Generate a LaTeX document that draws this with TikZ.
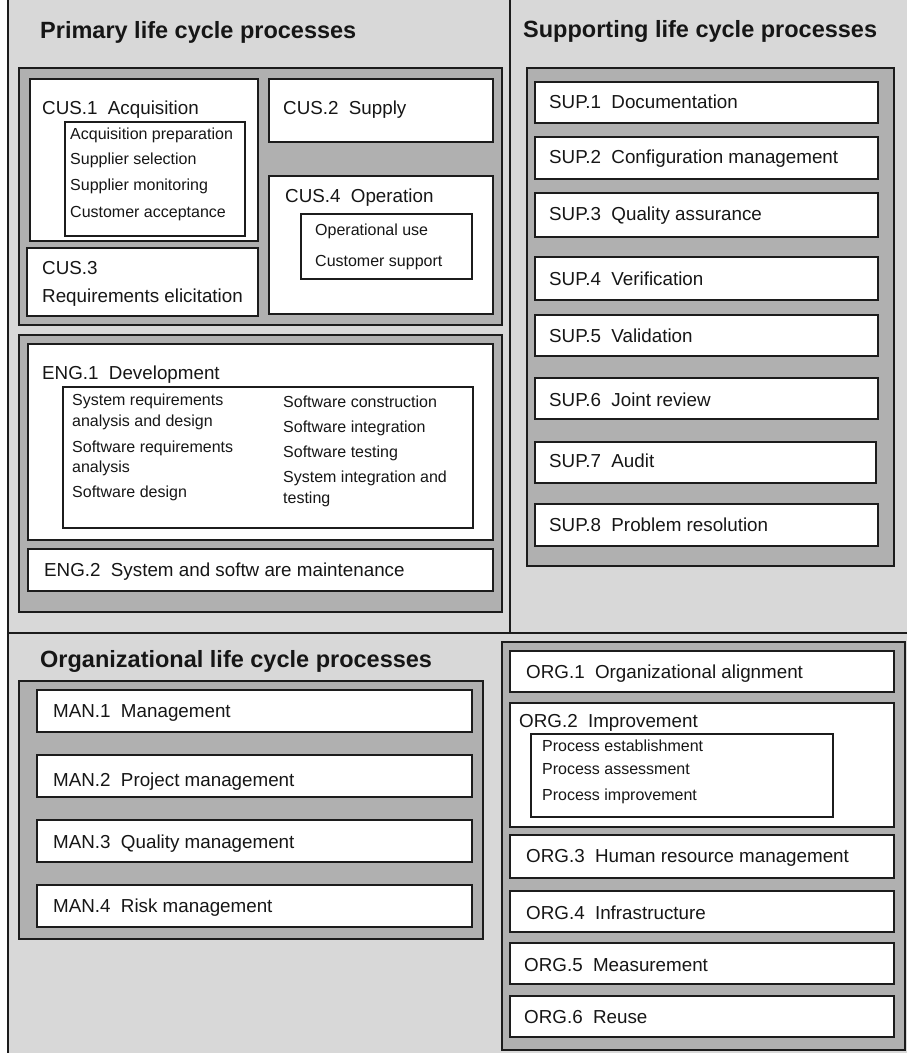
\documentclass[tikz,border=0pt]{standalone}
\usepackage{fontspec}
\setmainfont{Liberation Sans}
\definecolor{lightbg}{RGB}{216,216,216}
\definecolor{groupbg}{RGB}{176,176,176}
\definecolor{edge}{RGB}{28,28,28}
\definecolor{ink}{RGB}{22,22,22}
\tikzset{
 grp/.style={draw=edge, line width=2pt, fill=groupbg},
 pbox/.style={draw=edge, line width=2pt, fill=white},
 sbox/.style={draw=edge, line width=1.5pt, fill=white},
 head/.style={anchor=base west, inner sep=0pt, text=ink, font=\fontsize{23.5}{27}\selectfont\bfseries},
 lab/.style={anchor=base west, inner sep=0pt, text=ink, font=\fontsize{18.8}{22}\selectfont},
 sub/.style={anchor=base west, inner sep=0pt, text=ink, font=\fontsize{16}{19}\selectfont},
 divider/.style={draw=edge, line width=2.5pt},
}
\newcommand\gap{\hspace{0.55em}}
\newcommand\rbox[6]{\node[#2, anchor=north west, inner sep=0pt, outer sep=0pt, minimum width={(#5-#3)*1pt}, minimum height={(#6-#4)*1pt}] (#1) at (#3,#4) {};}
\begin{document}
\begin{tikzpicture}[x=1pt,y=-1pt]
\useasboundingbox (0,0) rectangle (907,1053);
\fill[lightbg] (8,0) rectangle (907,1053);
\coordinate (lt) at (8,0);
\coordinate (lb) at (8,1053);
\coordinate (hl) at (8,633);
\coordinate (hr) at (907,633);
\coordinate (vt) at (510,0);
\coordinate (vb) at (510,633);
\draw[divider] (lt) -- (lb);
\draw[divider] (hl) -- (hr);
\draw[divider] (vt) -- (vb);

% titles
\node[head] (tprim) at (40,38) {Primary life cycle processes};
\node[head] (tsup) at (523,37) {Supporting life cycle processes};
\node[head] (torg) at (40,667) {Organizational life cycle processes};

% ---------------- Primary: CUS group
\rbox{gcus}{grp}{19}{68}{502}{325}
\rbox{cus1}{pbox}{30}{79}{258}{241}
\rbox{cus1in}{sbox}{65}{122}{245}{236}
\rbox{cus2}{pbox}{269}{79}{493}{142}
\rbox{cus3}{pbox}{27}{248}{258}{316}
\rbox{cus4}{pbox}{269}{176}{493}{314}
\rbox{cus4in}{sbox}{301}{214}{472}{279}

\node[lab] (cus1t) at (42,114) {CUS.1\gap Acquisition};
\node[sub] (cus1a) at (70,139) {Acquisition preparation};
\node[sub] (cus1b) at (70,164) {Supplier selection};
\node[sub] (cus1c) at (70,190) {Supplier monitoring};
\node[sub] (cus1d) at (70,217) {Customer acceptance};
\node[lab] (cus2t) at (283,114) {CUS.2\gap Supply};
\node[lab] (cus3t) at (42,274) {CUS.3};
\node[lab] (cus3u) at (42,302) {Requirements elicitation};
\node[lab] (cus4t) at (285,202) {CUS.4\gap Operation};
\node[sub] (cus4a) at (315,235) {Operational use};
\node[sub] (cus4b) at (315,266) {Customer support};

% ---------------- Primary: ENG group
\rbox{geng}{grp}{19}{335}{502}{612}
\rbox{eng1}{pbox}{28}{344}{493}{540}
\rbox{eng1in}{sbox}{63}{387}{473}{528}
\rbox{eng2}{pbox}{28}{549}{493}{591}

\node[lab] (eng1t) at (42,379) {ENG.1\gap Development};
\node[sub] (e1a) at (72,405) {System requirements};
\node[sub] (e1b) at (72,426) {analysis and design};
\node[sub] (e1c) at (72,452) {Software requirements};
\node[sub] (e1d) at (72,472) {analysis};
\node[sub] (e1e) at (72,497) {Software design};
\node[sub] (e1f) at (283,407) {Software construction};
\node[sub] (e1g) at (283,432) {Software integration};
\node[sub] (e1h) at (283,457) {Software testing};
\node[sub] (e1i) at (283,482) {System integration and};
\node[sub] (e1j) at (283,503) {testing};
\node[lab] (eng2t) at (44,576) {ENG.2\gap System and softw are maintenance};

% ---------------- Supporting
\rbox{gsup}{grp}{527}{68}{894}{566}
\rbox{sup1}{pbox}{535}{82}{878}{123}
\rbox{sup2}{pbox}{535}{137}{878}{179}
\rbox{sup3}{pbox}{535}{193}{878}{237}
\rbox{sup4}{pbox}{535}{257}{878}{300}
\rbox{sup5}{pbox}{535}{315}{878}{356}
\rbox{sup6}{pbox}{535}{378}{878}{419}
\rbox{sup7}{pbox}{535}{442}{876}{483}
\rbox{sup8}{pbox}{535}{504}{878}{546}

\node[lab] (sup1t) at (549,108) {SUP.1\gap Documentation};
\node[lab] (sup2t) at (549,163) {SUP.2\gap Configuration management};
\node[lab] (sup3t) at (549,220) {SUP.3\gap Quality assurance};
\node[lab] (sup4t) at (549,285) {SUP.4\gap Verification};
\node[lab] (sup5t) at (549,342) {SUP.5\gap Validation};
\node[lab] (sup6t) at (549,406) {SUP.6\gap Joint review};
\node[lab] (sup7t) at (549,467) {SUP.7\gap Audit};
\node[lab] (sup8t) at (549,531) {SUP.8\gap Problem resolution};

% ---------------- Organizational: MAN
\rbox{gman}{grp}{19}{681}{483}{939}
\rbox{man1}{pbox}{37}{690}{472}{732}
\rbox{man2}{pbox}{37}{755}{472}{797}
\rbox{man3}{pbox}{37}{820}{472}{862}
\rbox{man4}{pbox}{37}{885}{472}{927}

\node[lab] (man1t) at (53,717) {MAN.1\gap Management};
\node[lab] (man2t) at (53,786) {MAN.2\gap Project management};
\node[lab] (man3t) at (53,848) {MAN.3\gap Quality management};
\node[lab] (man4t) at (53,912) {MAN.4\gap Risk management};

% ---------------- Organizational: ORG
\rbox{gorg}{grp}{502}{642}{905}{1050}
\rbox{org1}{pbox}{510}{651}{894}{692}
\rbox{org2}{pbox}{510}{703}{894}{827}
\rbox{org2in}{sbox}{531}{734}{833}{817}
\rbox{org3}{pbox}{510}{835}{894}{878}
\rbox{org4}{pbox}{510}{891}{894}{932}
\rbox{org5}{pbox}{510}{943}{894}{984}
\rbox{org6}{pbox}{510}{996}{894}{1037}

\node[lab] (org1t) at (526,678) {ORG.1\gap Organizational alignment};
\node[lab] (org2t) at (519,727) {ORG.2\gap Improvement};
\node[sub] (org2a) at (542,751) {Process establishment};
\node[sub] (org2b) at (542,774) {Process assessment};
\node[sub] (org2c) at (542,800) {Process improvement};
\node[lab] (org3t) at (526,862) {ORG.3\gap Human resource management};
\node[lab] (org4t) at (526,919) {ORG.4\gap Infrastructure};
\node[lab] (org5t) at (524,971) {ORG.5\gap Measurement};
\node[lab] (org6t) at (524,1023) {ORG.6\gap Reuse};
\end{tikzpicture}
\end{document}
